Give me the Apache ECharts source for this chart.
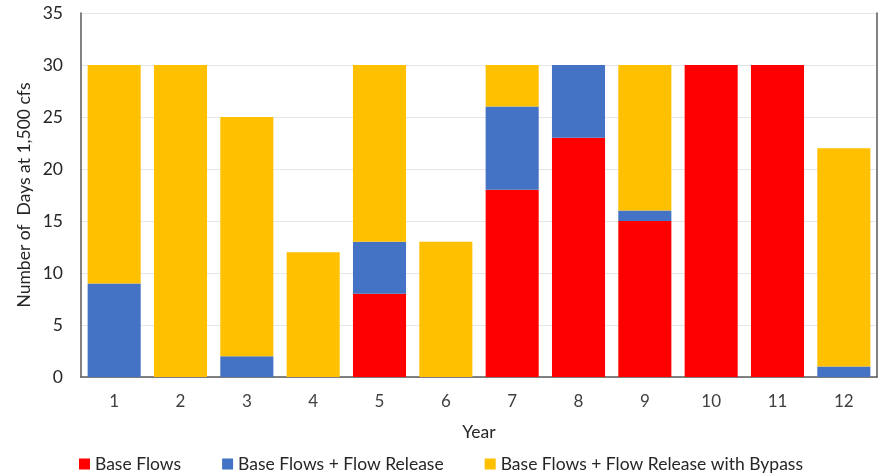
<!DOCTYPE html>
<html>
<head>
<meta charset="utf-8">
<script src="https://cdn.jsdelivr.net/npm/echarts@6/dist/echarts.min.js"></script>
<style>
  html, body { margin: 0; padding: 0; background: #fff; }
  #chart { width: 884px; height: 476px; }
</style>
</head>
<body>
<div id="chart"></div>
<script>
const years = ['1', '2', '3', '4', '5', '6', '7', '8', '9', '10', '11', '12'];
const baseFlows = [0, 0, 0, 0, 8, 0, 18, 23, 15, 30, 30, 0];
const flowRelease = [9, 0, 2, 0, 5, 0, 8, 7, 1, 0, 0, 1];
const withBypass = [21, 30, 23, 12, 17, 13, 4, 0, 14, 0, 0, 21];
const seriesNames = ['Base Flows', 'Base Flows + Flow Release', 'Base Flows + Flow Release with Bypass'];
const colors = ['#FF0000', '#4472C4', '#FFC000'];

const font = 'Lato, Open Sans, sans-serif';
const frameColor = '#595959';
const chart = echarts.init(document.getElementById('chart'));

const mk = (name, data, color) => ({
  name, type: 'bar', stack: 'days', data,
  barCategoryGap: '20%',
  itemStyle: { color },
  emphasis: { disabled: true }
});

chart.setOption({
  animation: false,
  textStyle: { fontFamily: font },
  grid: { left: 81, right: 7, top: 13, bottom: 99 },
  legend: {
    top: 451, left: 75, padding: 4,
    itemWidth: 11, itemHeight: 11, itemGap: 41,
    icon: 'rect',
    textStyle: { fontSize: 17.5, color: '#262626', fontFamily: font },
    data: seriesNames
  },
  xAxis: [{
    type: 'category', data: years,
    name: 'Year', nameLocation: 'middle', nameGap: 46,
    nameTextStyle: { fontSize: 17.5, color: '#262626' },
    axisLine: { show: false },
    axisTick: { show: false },
    axisLabel: { fontSize: 17, color: '#404040', margin: 16 }
  }, {
    // top frame edge
    type: 'category', data: years, position: 'top',
    axisLine: { show: true, lineStyle: { color: frameColor, width: 1.5 } },
    axisTick: { show: false }, axisLabel: { show: false }
  }],
  yAxis: [{
    type: 'value', min: 0, max: 35, interval: 5,
    name: 'Number of  Days at 1,500 cfs', nameLocation: 'middle', nameGap: 48,
    nameMoveOverlap: false,
    nameTextStyle: { fontSize: 17.5, color: '#262626' },
    axisLine: { show: true, lineStyle: { color: frameColor, width: 1.5 } },
    axisTick: { show: false },
    axisLabel: { fontSize: 17.5, color: '#262626', margin: 18 },
    splitLine: { lineStyle: { color: '#E6E6E6' } }
  }, {
    // right frame edge
    type: 'value', min: 0, max: 35, interval: 5, position: 'right',
    axisLine: { show: true, lineStyle: { color: frameColor, width: 1.5 } },
    axisTick: { show: false }, axisLabel: { show: false }, splitLine: { show: false }
  }],
  series: [
    mk(seriesNames[0], baseFlows, colors[0]),
    mk(seriesNames[1], flowRelease, colors[1]),
    mk(seriesNames[2], withBypass, colors[2])
  ]
});
</script>
</body>
</html>
